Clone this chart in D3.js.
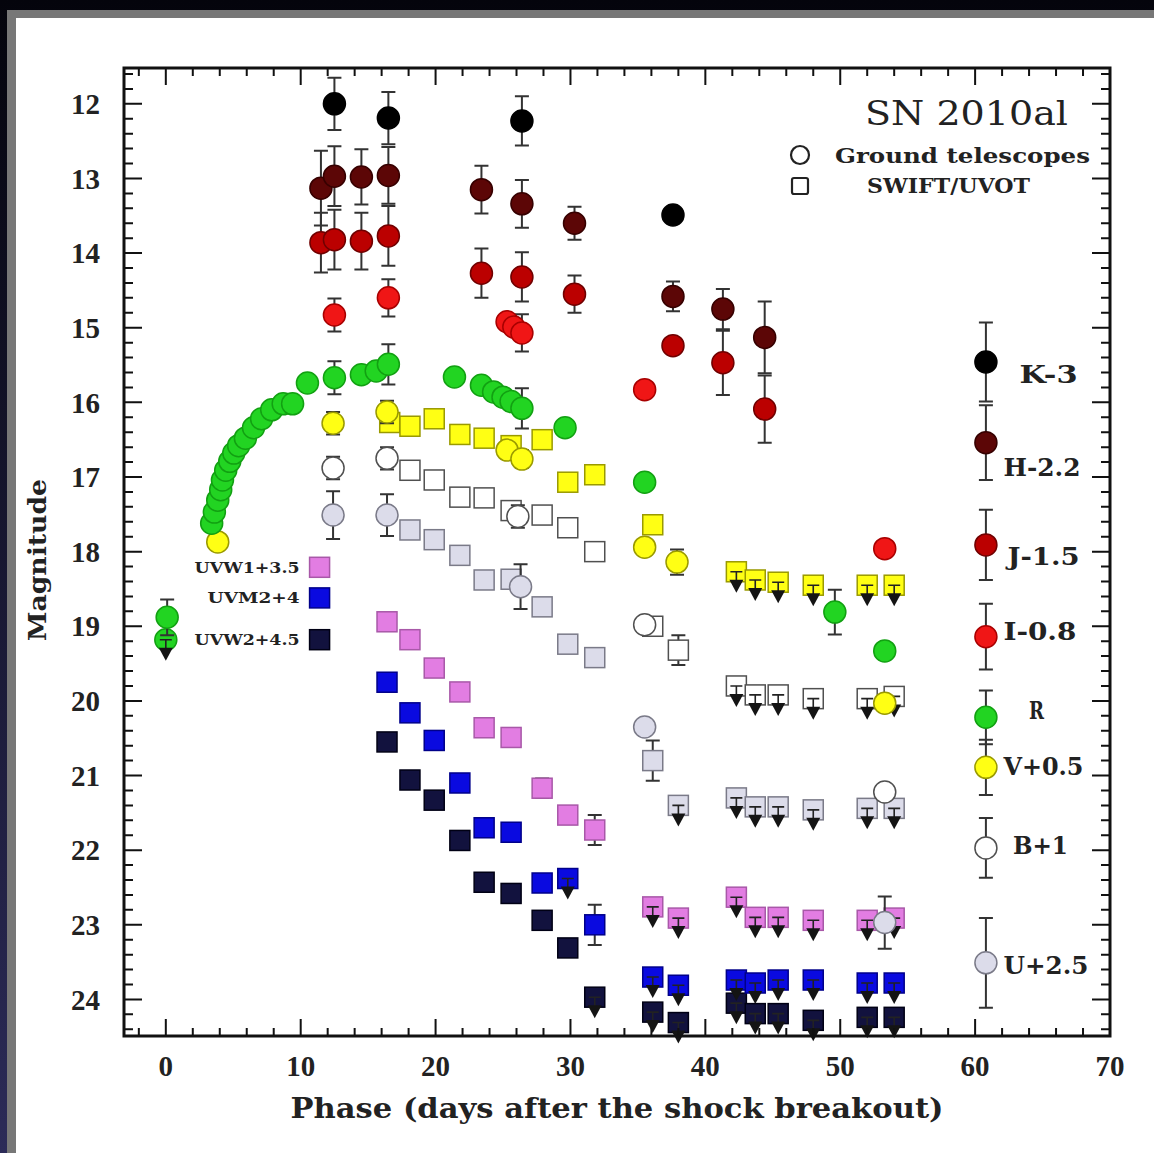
<!DOCTYPE html>
<html>
<head>
<meta charset="utf-8">
<script src="https://cdn.jsdelivr.net/npm/d3@7"></script>
<style>
  html, body { margin: 0; padding: 0; background: #0a0a18; }
  svg { display: block; }
</style>
</head>
<body>
<svg id="chart" width="1154" height="1153"></svg>
<script>
// SN 2010al light curves. Each point: [phase (days), magnitude incl. offset, error]
const kGround = [[12.5,12.00,0.35],[16.5,12.19,0.35],[26.4,12.23,0.33],[37.6,13.49,0]];
const hGround = [[11.5,13.13,0.5],[12.5,12.97,0.4],[14.5,12.98,0.37],[16.5,12.96,0.38],[23.4,13.15,0.32],
                 [26.4,13.34,0.32],[30.3,13.60,0.22],[37.6,14.58,0.2],[41.3,14.75,0.27],[44.4,15.13,0.48]];
const jGround = [[11.5,13.86,0.4],[12.5,13.82,0.4],[14.5,13.84,0.38],[16.5,13.77,0.4],[23.4,14.27,0.33],
                 [26.4,14.32,0.33],[30.3,14.55,0.25],[37.6,15.24,0],[41.3,15.47,0.43],[44.4,16.09,0.45]];
const iGround = [[12.5,14.83,0.22],[16.5,14.60,0.25],[25.3,14.92,0],[25.8,14.99,0],[26.4,15.07,0.25],
                 [35.5,15.83,0],[53.3,17.96,0]];
const rGround = [[0.1,18.88,0.24],[3.4,17.62,0],[3.6,17.47,0],[3.85,17.31,0],[4.07,17.17,0],[4.2,17.04,0],
                 [4.44,16.91,0],[4.74,16.79,0],[5.04,16.68,0],[5.4,16.58,0],[5.9,16.48,0],[6.5,16.34,0],
                 [7.1,16.22,0],[7.85,16.10,0],[8.7,16.02,0],[9.4,16.02,0],[10.5,15.74,0],[12.5,15.67,0.22],
                 [14.5,15.63,0],[15.6,15.58,0],[16.5,15.49,0.27],[21.4,15.66,0],[23.4,15.77,0],[24.3,15.86,0],
                 [25.0,15.93,0],[25.6,15.99,0],[26.4,16.08,0.27],[29.6,16.34,0],[35.5,17.07,0],
                 [49.6,18.81,0.3],[53.3,19.33,0]];
const rGroundLim = [[0.0,19.18]];
const vGround = [[3.85,17.87,0],[12.4,16.28,0.15],[16.4,16.13,0.15],[25.3,16.64,0],[26.4,16.76,0.12],
                 [35.5,17.94,0],[37.9,18.14,0.17],[53.3,20.03,0]];
const vSwift = [[16.6,16.27,0],[18.1,16.32,0],[19.9,16.22,0],[21.8,16.43,0],[23.6,16.48,0],[25.6,16.58,0],
                [27.9,16.50,0],[29.8,17.07,0.08],[31.8,16.97,0.08],[36.1,17.64,0.12]];
const vSwiftLim = [[42.3,18.27],[43.7,18.38],[45.4,18.41],[48.0,18.45],[52.0,18.45],[54.0,18.45]];
const bGround = [[12.4,16.88,0.15],[16.4,16.75,0.15],[26.1,17.53,0.15],[35.5,18.98,0],[53.3,21.22,0]];
const bSwift = [[18.1,16.91,0],[19.9,17.04,0],[21.8,17.27,0],[23.6,17.28,0],[25.6,17.45,0],[27.9,17.51,0],
                [29.8,17.68,0.08],[31.8,18.00,0.1],[36.1,19.00,0.12],[38.0,19.32,0.2]];
const bSwiftLim = [[42.3,19.80],[43.7,19.92],[45.4,19.92],[48.0,19.97],[52.0,19.97],[54.0,19.94]];
const uGround = [[12.4,17.51,0.32],[16.4,17.51,0.28],[26.3,18.47,0.3],[35.5,20.35,0],[53.3,22.97,0.35]];
const uSwift = [[18.1,17.71,0],[19.9,17.84,0],[21.8,18.05,0],[23.6,18.38,0],[25.6,18.37,0],[27.9,18.74,0.08],
                [29.8,19.24,0.05],[31.8,19.42,0.1],[36.1,20.80,0.27]];
const uSwiftLim = [[38.0,21.40],[42.3,21.30],[43.7,21.42],[45.4,21.42],[48.0,21.46],[52.0,21.44],[54.0,21.44]];
const uvw1Swift = [[16.4,18.94,0],[18.1,19.18,0],[19.9,19.56,0],[21.8,19.88,0],[23.6,20.36,0.1],[25.6,20.49,0.08],
                   [27.9,21.17,0.13],[29.8,21.53,0.1],[31.8,21.73,0.2]];
const uvw1SwiftLim = [[36.1,22.76],[38.0,22.91],[42.3,22.63],[43.7,22.90],[45.4,22.90],[48.0,22.94],[52.0,22.94],[54.0,22.91]];
const uvm2Swift = [[16.4,19.75,0],[18.1,20.16,0],[19.9,20.53,0],[21.8,21.10,0],[23.6,21.70,0],[25.6,21.76,0],
                   [27.9,22.44,0],[31.8,23.00,0.27]];
const uvm2SwiftLim = [[29.8,22.38],[36.1,23.70],[38.0,23.81],[42.3,23.74],[43.7,23.78],[45.4,23.74],[48.0,23.74],[52.0,23.78],[54.0,23.78]];
const uvw2Swift = [[16.4,20.55,0],[18.1,21.06,0],[19.9,21.33,0],[21.8,21.87,0],[23.6,22.43,0],[25.6,22.58,0],
                   [27.9,22.94,0],[29.8,23.31,0]];
const uvw2SwiftLim = [[31.8,23.97],[36.1,24.17],[38.0,24.31],[42.3,24.05],[43.7,24.19],[45.4,24.19],[48.0,24.28],[52.0,24.24],[54.0,24.24]];

// Band key on the right: label, marker magnitude, error half-length, label magnitude, label phase
const keyLabels  = ['K-3','H-2.2','J-1.5','I-0.8','R','V+0.5','B+1','U+2.5'];
const keyMag     = [15.46,16.54,17.91,19.14,20.22,20.89,21.97,23.51];
const keyErr     = [0.53,0.5,0.47,0.44,0.36,0.37,0.4,0.6];
const keyTextMag = [15.63,16.87,18.07,19.07,20.13,20.88,21.93,23.55];
const keyTextX   = [63.3,62.1,62.4,62.1,64.0,62.1,62.8,62.1];
const keyTextW   = [58,77,72,73,15,80,55,85];
const keyPhase   = 60.8;

// UV key inside the plot
const uvLabels = ['UVW1+3.5','UVM2+4','UVW2+4.5'];
const uvMag    = [18.21,18.62,19.18];
const uvTextW  = [105,92,105];
const uvPhase  = 11.4;

// Axis ticks
const xMajor = [0,10,20,30,40,50,60,70];
const yMajor = [12,13,14,15,16,17,18,19,20,21,22,23,24];

// ---------------------------------------------------------------------------
const svg = d3.select('#chart');
const L = 124, R = 1110, T = 68, B = 1036;
const x = d3.scaleLinear().domain([-3.1, 70]).range([L, R]);
const y = d3.scaleLinear().domain([11.52, 24.49]).range([T, B]);

// slide backdrop
const defs = svg.append('defs');
const grad = defs.append('linearGradient').attr('id','backdrop')
  .attr('x1',0).attr('y1',0).attr('x2',0).attr('y2',1);
grad.append('stop').attr('offset','0%').attr('stop-color','#04040c');
grad.append('stop').attr('offset','100%').attr('stop-color','#2c2b58');
svg.append('rect').attr('width',1154).attr('height',1153).attr('fill','url(#backdrop)');
svg.append('rect').attr('x',7).attr('y',10).attr('width',1147).attr('height',1143).attr('fill','#777');
svg.append('rect').attr('x',16).attr('y',18).attr('width',1138).attr('height',1135).attr('fill','#fff');

const styles = {
  K:    {fill:'#000000', stroke:'#000000'},
  H:    {fill:'#5c0606', stroke:'#360000'},
  J:    {fill:'#bb0000', stroke:'#700000'},
  I:    {fill:'#f01616', stroke:'#a80000'},
  R:    {fill:'#22d422', stroke:'#12a012'},
  V:    {fill:'#ffff14', stroke:'#9a9a00'},
  B:    {fill:'#ffffff', stroke:'#505050'},
  U:    {fill:'#dcdcea', stroke:'#7a7a88'},
  UVW1: {fill:'#e27de2', stroke:'#a858a8'},
  UVM2: {fill:'#0a0ae0', stroke:'#00008a'},
  UVW2: {fill:'#12123e', stroke:'#000014'}
};
const ebColor = '#333';
const SQ = 20, RAD = 11;

const layer = svg.append('g');

function errorBars(g, data) {
  g.selectAll(null).data(data.filter(d => d[2] > 0)).join('path')
    .attr('d', d => {
      const cx = x(d[0]), y1 = y(d[1] - d[2]), y2 = y(d[1] + d[2]);
      return `M${cx},${y1}V${y2}M${cx-7},${y1}H${cx+7}M${cx-7},${y2}H${cx+7}`;
    })
    .attr('fill','none').attr('stroke',ebColor).attr('stroke-width',2);
}
function circles(data, st) {
  const g = layer.append('g');
  errorBars(g, data);
  g.selectAll(null).data(data).join('circle')
    .attr('cx', d => x(d[0])).attr('cy', d => y(d[1])).attr('r', RAD)
    .attr('fill', st.fill).attr('stroke', st.stroke).attr('stroke-width', 1.5);
}
function squares(data, st) {
  const g = layer.append('g');
  errorBars(g, data);
  g.selectAll(null).data(data).join('rect')
    .attr('x', d => x(d[0]) - SQ/2).attr('y', d => y(d[1]) - SQ/2)
    .attr('width', SQ).attr('height', SQ)
    .attr('fill', st.fill).attr('stroke', st.stroke).attr('stroke-width', 1.5);
}
// upper limit: marker with a downward arrow
function limits(data, st, shape) {
  const g = layer.append('g');
  if (shape === 'circle') {
    g.selectAll(null).data(data).join('circle')
      .attr('cx', d => x(d[0])).attr('cy', d => y(d[1])).attr('r', RAD)
      .attr('fill', st.fill).attr('stroke', st.stroke).attr('stroke-width', 1.5);
  } else {
    g.selectAll(null).data(data).join('rect')
      .attr('x', d => x(d[0]) - SQ/2).attr('y', d => y(d[1]) - SQ/2)
      .attr('width', SQ).attr('height', SQ)
      .attr('fill', st.fill).attr('stroke', st.stroke).attr('stroke-width', 1.5);
  }
  g.selectAll(null).data(data).join('path')
    .attr('d', d => { const cx = x(d[0]), cy = y(d[1]);
      return `M${cx-6},${cy}H${cx+6}M${cx},${cy}V${cy+10}`; })
    .attr('fill','none').attr('stroke','#222').attr('stroke-width',1.6);
  g.selectAll(null).data(data).join('path')
    .attr('d', d => { const cx = x(d[0]), cy = y(d[1]);
      return `M${cx-7},${cy+8}L${cx+7},${cy+8}L${cx},${cy+21}Z`; })
    .attr('fill','#141414');
}

// draw from the faint UV bands up to the near-IR
squares(uvw2Swift, styles.UVW2);  limits(uvw2SwiftLim, styles.UVW2, 'square');
squares(uvm2Swift, styles.UVM2);  limits(uvm2SwiftLim, styles.UVM2, 'square');
squares(uvw1Swift, styles.UVW1);  limits(uvw1SwiftLim, styles.UVW1, 'square');
squares(uSwift, styles.U);        limits(uSwiftLim, styles.U, 'square');  circles(uGround, styles.U);
squares(bSwift, styles.B);        limits(bSwiftLim, styles.B, 'square');  circles(bGround, styles.B);
squares(vSwift, styles.V);        limits(vSwiftLim, styles.V, 'square');  circles(vGround, styles.V);
limits(rGroundLim, styles.R, 'circle'); circles(rGround, styles.R);
circles(iGround, styles.I);
circles(jGround, styles.J);
circles(hGround, styles.H);
circles(kGround, styles.K);

// band key (right side)
const keyStyles = [styles.K, styles.H, styles.J, styles.I, styles.R, styles.V, styles.B, styles.U];
keyLabels.forEach((lab, i) => {
  circles([[keyPhase, keyMag[i], keyErr[i]]], keyStyles[i]);
});

const serif = "'DejaVu Serif', 'Liberation Serif', serif";
const numFont = "'Liberation Serif', 'DejaVu Serif', serif";

svg.append('g').selectAll('text').data(keyLabels).join('text')
  .attr('x', (d, i) => x(keyTextX[i])).attr('y', (d, i) => y(keyTextMag[i]))
  .attr('dy', '0.36em')
  .attr('textLength', (d, i) => keyTextW[i]).attr('lengthAdjust', 'spacingAndGlyphs')
  .attr('font-family', serif).attr('font-weight', 'bold').attr('font-size', 24)
  .attr('fill', '#222').text(d => d);

// UV key
const uvStyles = [styles.UVW1, styles.UVM2, styles.UVW2];
uvLabels.forEach((lab, i) => squares([[uvPhase, uvMag[i], 0]], uvStyles[i]));
svg.append('g').selectAll('text').data(uvLabels).join('text')
  .attr('x', x(uvPhase) - 20).attr('y', (d, i) => y(uvMag[i]))
  .attr('dy', '0.36em').attr('text-anchor', 'end')
  .attr('textLength', (d, i) => uvTextW[i]).attr('lengthAdjust', 'spacingAndGlyphs')
  .attr('font-family', serif).attr('font-weight', 'bold').attr('font-size', 15)
  .attr('fill', '#222').text(d => d);

// title and symbol key
svg.append('text').attr('x', 1068).attr('y', 113).attr('dy', '0.36em')
  .attr('text-anchor', 'end').attr('textLength', 203).attr('lengthAdjust', 'spacingAndGlyphs')
  .attr('font-family', serif).attr('font-size', 34).attr('fill', '#222').text('SN 2010al');
svg.append('circle').attr('cx', 800).attr('cy', 155).attr('r', 9)
  .attr('fill', 'none').attr('stroke', '#222').attr('stroke-width', 2.2);
svg.append('rect').attr('x', 792).attr('y', 178).attr('width', 16).attr('height', 16).attr('rx', 2)
  .attr('fill', 'none').attr('stroke', '#222').attr('stroke-width', 2.2);
svg.append('text').attr('x', 835).attr('y', 155).attr('dy', '0.36em')
  .attr('textLength', 255).attr('lengthAdjust', 'spacingAndGlyphs')
  .attr('font-family', serif).attr('font-weight', 'bold').attr('font-size', 21)
  .attr('fill', '#222').text('Ground telescopes');
svg.append('text').attr('x', 867).attr('y', 186).attr('dy', '0.36em')
  .attr('textLength', 163).attr('lengthAdjust', 'spacingAndGlyphs')
  .attr('font-family', serif).attr('font-weight', 'bold').attr('font-size', 20)
  .attr('fill', '#222').text('SWIFT/UVOT');

// frame and ticks
const axes = svg.append('g').attr('stroke', '#111').attr('fill', 'none');
const xMinor = d3.range(-2, 70, 2).filter(v => v % 10 !== 0);
const yMinor = d3.range(11.6, 24.5, 0.2).filter(v => Math.abs(v - Math.round(v)) > 0.01);
axes.selectAll(null).data(xMajor).join('path')
  .attr('d', v => `M${x(v)},${B}v-17M${x(v)},${T}v17`).attr('stroke-width', 2);
axes.selectAll(null).data(xMinor).join('path')
  .attr('d', v => `M${x(v)},${B}v-8M${x(v)},${T}v8`).attr('stroke-width', 2);
axes.selectAll(null).data(yMajor).join('path')
  .attr('d', v => `M${L},${y(v)}h18M${R},${y(v)}h-18`).attr('stroke-width', 2);
axes.selectAll(null).data(yMinor).join('path')
  .attr('d', v => `M${L},${y(v)}h9M${R},${y(v)}h-9`).attr('stroke-width', 2);
axes.append('rect').attr('x', L).attr('y', T).attr('width', R - L).attr('height', B - T)
  .attr('stroke-width', 3);

// tick labels
svg.append('g').selectAll('text').data(yMajor).join('text')
  .attr('x', 100).attr('y', v => y(v)).attr('dy', '0.35em').attr('text-anchor', 'end')
  .attr('font-family', numFont).attr('font-weight', 'bold').attr('font-size', 29)
  .attr('fill', '#222').text(v => v);
svg.append('g').selectAll('text').data(xMajor).join('text')
  .attr('x', v => x(v)).attr('y', 1066).attr('dy', '0.35em').attr('text-anchor', 'middle')
  .attr('font-family', numFont).attr('font-weight', 'bold').attr('font-size', 29)
  .attr('fill', '#222').text(v => v);

// axis titles
svg.append('text').attr('x', 617).attr('y', 1108).attr('dy', '0.36em').attr('text-anchor', 'middle')
  .attr('textLength', 653).attr('lengthAdjust', 'spacingAndGlyphs')
  .attr('font-family', serif).attr('font-weight', 'bold').attr('font-size', 27)
  .attr('fill', '#222').text('Phase (days after the shock breakout)');
svg.append('text').attr('transform', 'translate(37,560) rotate(-90)').attr('dy', '0.36em')
  .attr('text-anchor', 'middle').attr('textLength', 162).attr('lengthAdjust', 'spacingAndGlyphs')
  .attr('font-family', serif).attr('font-weight', 'bold').attr('font-size', 25)
  .attr('fill', '#222').text('Magnitude');
</script>
</body>
</html>
